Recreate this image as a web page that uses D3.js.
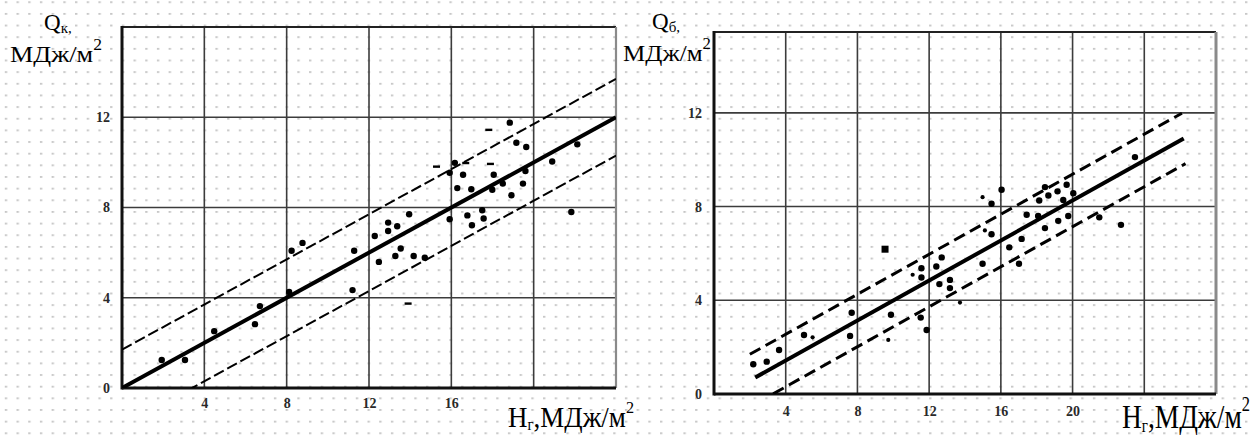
<!DOCTYPE html>
<html><head><meta charset="utf-8">
<script src="https://cdn.jsdelivr.net/npm/d3@7"></script>
<style>html,body{margin:0;padding:0;background:#fff;} svg{display:block;}</style>
</head><body>
<svg id="chart" width="1254" height="436"></svg>
<script>
// ---- Left panel: Qк against Hг ----
const hK = [1.93, 3.06, 4.48, 6.46, 6.7, 8.12, 8.24, 8.77, 11.28, 11.2, 12.28, 12.48, 12.93, 12.93, 13.37,
            13.54, 13.28, 14.17, 14.71, 13.95, 15.92, 16.17, 16.57, 16.29, 16.97, 17.99, 18.06, 18.5, 18.92,
            19.48, 19.6, 19.16, 19.64, 18.84, 20.9, 22.12, 21.83, 15.92, 16.78, 17.0, 17.5, 17.57];
const qK = [1.24, 1.24, 2.52, 2.83, 3.63, 4.26, 6.08, 6.43, 6.08, 4.34, 6.74, 5.59, 7.33, 6.96, 7.17,
            6.18, 5.85, 5.85, 5.77, 7.7, 9.54, 9.98, 9.45, 8.86, 8.81, 8.79, 9.45, 9.06, 8.54,
            9.06, 9.62, 10.87, 10.68, 11.76, 10.04, 10.8, 7.8, 7.48, 7.65, 7.21, 7.88, 7.51];
const hKdash = [17.82, 17.9, 15.28, 13.9, 16.7];
const qKdash = [11.45, 9.94, 9.82, 3.75, 9.98];
const fitK = [0.5, 0];          // slope, intercept
const bandK = 1.7;              // half-width of the dashed band
const spanK = [[0, 24], [0, 24], [0, 24]];   // solid, upper, lower
const xTicksK = [4, 8, 12, 16];
const yTicksK = [0, 4, 8, 12];
const gridXK = [4, 8, 12, 16, 20];
const gridYK = [4, 8, 12];

// ---- Right panel: Qб against Hг ----
const hB = [2.19, 2.94, 3.63, 5.02, 7.59, 7.68, 9.87, 11.53, 11.86, 11.57, 11.57, 12.4, 12.7, 12.57,
            13.16, 13.16, 14.98, 15.48, 16.04, 15.48, 16.47, 17.01, 17.16, 17.44, 18.08, 18.14, 18.46,
            18.65, 18.46, 19.16, 19.2, 19.67, 19.76, 19.48, 20.04, 21.49, 22.7, 23.48];
const qB = [1.27, 1.38, 1.88, 2.52, 2.48, 3.47, 3.38, 3.26, 2.73, 5.37, 4.97, 5.44, 5.83, 4.69,
            4.87, 4.52, 5.56, 8.12, 8.72, 6.82, 6.26, 5.56, 6.62, 7.65, 7.6, 8.26, 8.83,
            8.47, 7.08, 8.65, 7.39, 8.93, 7.6, 8.28, 8.57, 7.54, 7.22, 10.11];
const hBsmall = [5.5, 9.72, 11.08, 13.72, 14.98, 15.11];
const qBsmall = [2.42, 2.31, 5.09, 3.9, 8.4, 6.98];
const hBsquare = [9.54];
const qBsquare = [6.18];
const fitB = [0.427, -0.28];
const bandB = 1.12;
const spanB = [[2.3, 26.2], [2.0, 26.1], [3.3, 26.3]];
const xTicksB = [4, 8, 12, 16, 20];
const yTicksB = [0, 4, 8, 12];
const gridXB = [4, 8, 12, 16, 20, 24];
const gridYB = [4, 8, 12];

const svg = d3.select("#chart");
const FONT = "'Liberation Serif','Times New Roman',serif";

// dotted paper background
const defs = svg.append("defs");
const pat = defs.append("pattern").attr("id", "paper")
  .attr("patternUnits", "userSpaceOnUse")
  .attr("x", 4.8).attr("y", 1.3).attr("width", 11.7).attr("height", 11.65);
pat.append("rect").attr("width", 2.4).attr("height", 1.8).attr("fill", "#c6c6c6");
svg.append("rect").attr("width", 1254).attr("height", 436).attr("fill", "#fff");
svg.append("rect").attr("width", 1254).attr("height", 436).attr("fill", "url(#paper)");

// a narrow, tall title: font sized to the width, then stretched vertically
function condensed(parent, x, y, width, size, build) {
  const wrap = parent.append("g").attr("transform", `translate(${x},${y})`);
  let t = wrap.append("text").attr("font-family", FONT).attr("font-size", size).attr("fill", "#000");
  build(t, size);
  const k = width / t.node().getBBox().width;
  t.remove();
  t = wrap.append("text").attr("font-family", FONT).attr("font-size", size * k).attr("fill", "#000");
  build(t, size * k);
  wrap.attr("transform", `translate(${x},${y}) scale(1,${1 / k})`);
}

function panel(cfg) {
  const x = d3.scaleLinear().domain(cfg.xDomain).range(cfg.xRange);
  const y = d3.scaleLinear().domain(cfg.yDomain).range(cfg.yRange);
  const g = svg.append("g");
  const [x0, x1] = cfg.xRange, [y0, y1] = cfg.yRange;

  defs.append("clipPath").attr("id", cfg.id + "-clip")
    .append("rect").attr("x", x0).attr("y", y1).attr("width", x1 - x0).attr("height", y0 - y1);

  // grid
  g.selectAll(".gx").data(cfg.gridX).join("line")
    .attr("x1", d => x(d)).attr("x2", d => x(d)).attr("y1", y1).attr("y2", y0)
    .attr("stroke", "#3c3c3c").attr("stroke-width", 1.6);
  g.selectAll(".gy").data(cfg.gridY).join("line")
    .attr("x1", x0).attr("x2", x1).attr("y1", d => y(d)).attr("y2", d => y(d))
    .attr("stroke", "#3c3c3c").attr("stroke-width", 1.6);

  // frame
  g.append("line").attr("x1", x0).attr("x2", x1).attr("y1", y1).attr("y2", y1)
    .attr("stroke", "#222").attr("stroke-width", 2.2);
  g.append("line").attr("x1", x1).attr("x2", x1).attr("y1", y1).attr("y2", y0)
    .attr("stroke", "#8a8a8a").attr("stroke-width", cfg.rightW);
  g.append("line").attr("x1", x0).attr("x2", x0).attr("y1", y1 - 1).attr("y2", y0 + 1.5)
    .attr("stroke", "#111").attr("stroke-width", 3);
  g.append("line").attr("x1", x0).attr("x2", x1).attr("y1", y0).attr("y2", y0)
    .attr("stroke", "#111").attr("stroke-width", 3);

  // tick labels through d3 axes
  const ax = g.append("g").attr("transform", `translate(0,${y0 + cfg.xLabelDy})`)
    .call(d3.axisBottom(x).tickValues(cfg.xTicks).tickSize(0).tickPadding(0));
  const ay = g.append("g").attr("transform", `translate(${x0 - cfg.yLabelDx},0)`)
    .call(d3.axisLeft(y).tickValues(cfg.yTicks).tickSize(0).tickPadding(0));
  [ax, ay].forEach(a => {
    a.select(".domain").remove();
    a.selectAll("text").attr("font-family", FONT).attr("font-size", 14)
      .attr("font-weight", "bold").attr("fill", "#2a2a2a");
  });

  // regression line and band
  const lines = g.append("g").attr("clip-path", `url(#${cfg.id}-clip)`);
  const offs = [0, cfg.band, -cfg.band];
  offs.forEach((o, i) => {
    const [a, b] = cfg.span[i];
    const f = h => cfg.fit[0] * h + cfg.fit[1] + o;
    lines.append("line")
      .attr("x1", x(a)).attr("y1", y(f(a))).attr("x2", x(b)).attr("y2", y(f(b)))
      .attr("stroke", "#000")
      .attr("stroke-width", i === 0 ? 4 : cfg.dashW)
      .attr("stroke-dasharray", i === 0 ? null : cfg.dash);
  });

  // observations
  g.selectAll(".pt").data(d3.zip(cfg.h, cfg.q)).join("circle")
    .attr("cx", d => x(d[0])).attr("cy", d => y(d[1])).attr("r", 3.2).attr("fill", "#000");
  if (cfg.hSmall) g.selectAll(".ps").data(d3.zip(cfg.hSmall, cfg.qSmall)).join("circle")
    .attr("cx", d => x(d[0])).attr("cy", d => y(d[1])).attr("r", 2.1).attr("fill", "#000");
  if (cfg.hDash) g.selectAll(".pd").data(d3.zip(cfg.hDash, cfg.qDash)).join("rect")
    .attr("x", d => x(d[0]) - 3.5).attr("y", d => y(d[1]) - 1).attr("width", 7).attr("height", 2.4)
    .attr("fill", "#000");
  if (cfg.hSq) g.selectAll(".pq").data(d3.zip(cfg.hSq, cfg.qSq)).join("rect")
    .attr("x", d => x(d[0]) - 3.5).attr("y", d => y(d[1]) - 3.5).attr("width", 7).attr("height", 7)
    .attr("fill", "#000");

  // axis titles
  const t = cfg.titles;
  const q = g.append("text").attr("x", t.q[0]).attr("y", t.q[1])
    .attr("font-family", FONT).attr("font-size", 23).attr("fill", "#000");
  q.append("tspan").text("Q");
  q.append("tspan").attr("font-size", 15).attr("dy", 3).text(cfg.qSub + ",");

  condensed(g, t.u[0], t.u[1], t.u[2], 24, (txt, s) => {
    txt.append("tspan").text("МДж/м");
    txt.append("tspan").attr("font-size", s * 0.67).attr("dy", -s * 0.5).text("2");
  });
  condensed(g, t.h[0], t.h[1], t.h[2], t.h[3], (txt, s) => {
    txt.append("tspan").text("H");
    txt.append("tspan").attr("font-size", s * 0.55).attr("dy", s * 0.12).text("г");
    txt.append("tspan").attr("dy", -s * 0.12).text(",МДж/м");
    txt.append("tspan").attr("font-size", s * 0.6).attr("dy", -s * 0.5).text("2");
  });
}

panel({
  id: "k", xDomain: [0, 24], yDomain: [0, 16], xRange: [122, 616], yRange: [388, 27],
  gridX: gridXK, gridY: gridYK, xTicks: xTicksK, yTicks: yTicksK,
  xLabelDy: 10, yLabelDx: 12, rightW: 2.2,
  fit: fitK, band: bandK, span: spanK, dashW: 2, dash: "11,4",
  h: hK, q: qK, hDash: hKdash, qDash: qKdash, qSub: "к",
  titles: { q: [44, 30], u: [10, 62, 92], h: [508, 427, 126, 29] }
});

panel({
  id: "b", xDomain: [0, 28], yDomain: [0, 15.45], xRange: [714, 1216], yRange: [394, 32],
  gridX: gridXB, gridY: gridYB, xTicks: xTicksB, yTicks: yTicksB,
  xLabelDy: 12, yLabelDx: 12, rightW: 3,
  fit: fitB, band: bandB, span: spanB, dashW: 3, dash: "12,6",
  h: hB, q: qB, hSmall: hBsmall, qSmall: qBsmall, hSq: hBsquare, qSq: qBsquare, qSub: "б",
  titles: { q: [652, 29], u: [623, 61, 88], h: [1122, 428, 128, 34] }
});
</script>
</body></html>
